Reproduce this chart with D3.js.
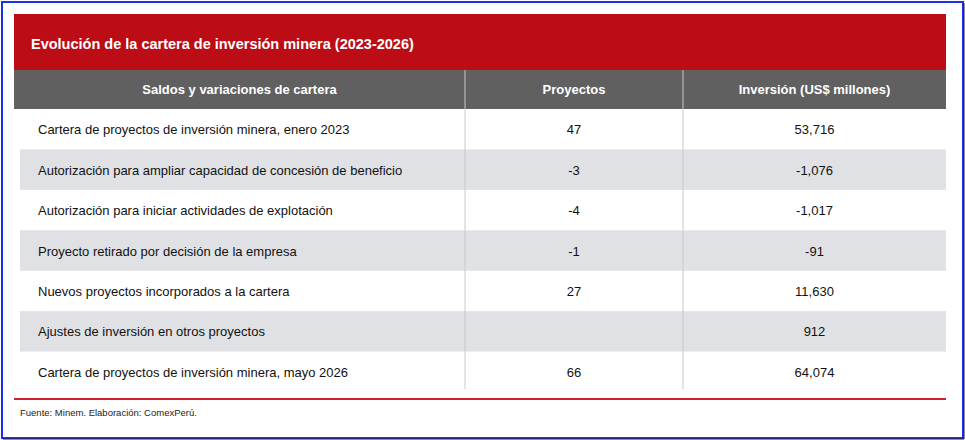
<!DOCTYPE html>
<html><head><meta charset="utf-8">
<script src="https://cdn.jsdelivr.net/npm/d3@7"></script>
<style>body{margin:0;background:#fff}svg{display:block;font-family:"Liberation Sans",Arial,sans-serif}</style>
</head><body><svg width="965" height="440"></svg>
<script>
const title = "Evolución de la cartera de inversión minera (2023-2026)"
const headers = ["Saldos y variaciones de cartera", "Proyectos", "Inversión (US$ millones)"]
const concepts = [
  "Cartera de proyectos de inversión minera, enero 2023",
  "Autorización para ampliar capacidad de concesión de beneficio",
  "Autorización para iniciar actividades de explotación",
  "Proyecto retirado por decisión de la empresa",
  "Nuevos proyectos incorporados a la cartera",
  "Ajustes de inversión en otros proyectos",
  "Cartera de proyectos de inversión minera, mayo 2026"
]
const projects = [47, -3, -4, -1, 27, null, 66]
const investment = [53716, -1076, -1017, -91, 11630, 912, 64074]
const source = "Fuente: Minem. Elaboración: ComexPerú."

const svg = d3.select("svg")
const fmt = d3.format(",")
// outer frame
svg.append("rect").attr("x", 2).attr("y", 2).attr("width", 961).attr("height", 436)
  .attr("fill", "#fff").attr("stroke", "#1a2ff0").attr("stroke-width", 2)
svg.append("path").attr("d", "M964,3V439H3").attr("fill", "none").attr("stroke", "#222").attr("stroke-width", 1)

const L = 14, R = 946
svg.append("rect").attr("x", L).attr("y", 14).attr("width", R - L).attr("height", 56).attr("fill", "#bc0d16")
svg.append("text").attr("x", 31).attr("y", 49).attr("fill", "#fff").attr("font-size", 14.5)
  .attr("font-weight", "bold").text(title)
svg.append("rect").attr("x", L).attr("y", 70).attr("width", R - L).attr("height", 39).attr("fill", "#606060")

const colX = [L, 465, 683, R]
const y = d3.scaleBand().domain(d3.range(concepts.length)).range([109, 392])

svg.selectAll("rect.band").data(concepts).enter().append("rect")
  .attr("class", "band")
  .attr("x", 20).attr("width", R - 20)
  .attr("y", (d, i) => y(i)).attr("height", y.bandwidth())
  .attr("fill", (d, i) => i % 2 ? "#e0e1e5" : "none")

headers.forEach((h, j) => {
  svg.append("text").attr("x", (colX[j] + colX[j + 1]) / 2).attr("y", 94)
    .attr("text-anchor", "middle").attr("fill", "#fff").attr("font-size", 13)
    .attr("font-weight", "bold").text(h)
})
;[465, 683].forEach(x => {
  svg.append("line").attr("x1", x).attr("x2", x).attr("y1", 70).attr("y2", 389)
    .attr("stroke", "#c8c8c8").attr("stroke-width", 1)
})

const rows = svg.selectAll("g.row").data(concepts).enter().append("g")
  .attr("transform", (d, i) => `translate(0,${y(i) + y.bandwidth() / 2 + 5})`)
  .attr("font-size", 13).attr("fill", "#111")
rows.append("text").attr("x", 38).text(d => d)
rows.append("text").attr("x", (465 + 683) / 2).attr("text-anchor", "middle")
  .text((d, i) => projects[i] == null ? "" : projects[i])
rows.append("text").attr("x", (683 + R) / 2).attr("text-anchor", "middle")
  .text((d, i) => fmt(investment[i]).replace("−", "-"))

svg.append("line").attr("x1", L).attr("x2", R).attr("y1", 399).attr("y2", 399)
  .attr("stroke", "#d0202a").attr("stroke-width", 2)
svg.append("text").attr("x", 20).attr("y", 416).attr("font-size", 9.5).attr("fill", "#222").text(source)
</script></body></html>
